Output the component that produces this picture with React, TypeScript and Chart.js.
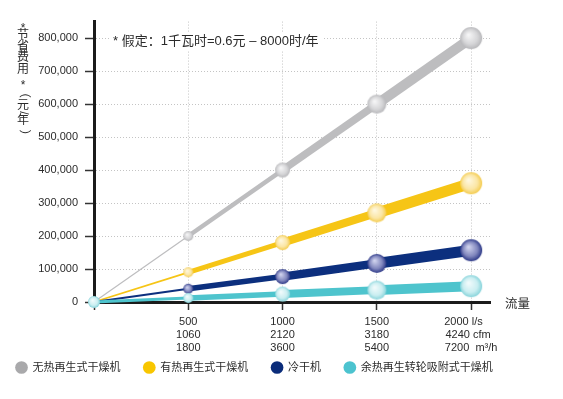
import React, { useEffect, useRef } from 'react';
import { Chart, registerables } from 'chart.js';

Chart.register(...registerables);

// ---- data ----
const flowLs = [0, 500, 1000, 1500, 2000];
const flowCfm = ['', '1060', '2120', '3180', '4240'];
const flowM3h = ['', '1800', '3600', '5400', '7200'];
const seriesNames = ['无热再生式干燥机', '有热再生式干燥机', '冷干机', '余热再生转轮吸附式干燥机'];
const heatlessSavings = [0, 200000, 400000, 600000, 800000];
const heatedSavings = [0, 90000, 180000, 270000, 360000];
const refrigeratedSavings = [0, 40000, 77000, 117000, 157000];
const heatOfCompressionSavings = [0, 12000, 24000, 36000, 48000];
const yTickValues = [0, 100000, 200000, 300000, 400000, 500000, 600000, 700000, 800000];
const yAxisTitleChars = ['*', '节', '省', '费', '用', '*', '（', '元', '/', '年', '）'];
const noteText = '* 假定：1千瓦时=0.6元 – 8000时/年';
const xAxisTitle = '流量';

const FAMILY = "'Liberation Sans', 'Noto Sans CJK SC', sans-serif";
const TEXT = '#2b2b2b';

function makeSphere(r: number, hi: string, mid: string, edge: string) {
  const size = Math.ceil(2 * r + 2);
  const c = document.createElement('canvas');
  c.width = size;
  c.height = size;
  const g = c.getContext('2d')!;
  const cx = size / 2, cy = size / 2;
  const grad = g.createRadialGradient(cx - r * 0.25, cy - r * 0.3, r * 0.05, cx, cy, r);
  grad.addColorStop(0, hi);
  grad.addColorStop(0.65, mid);
  grad.addColorStop(1, edge);
  g.fillStyle = grad;
  g.beginPath();
  g.arc(cx, cy, r, 0, Math.PI * 2);
  g.fill();
  return c;
}

export default function App() {
  const ref = useRef<HTMLCanvasElement>(null);

  useEffect(() => {
    const canvas = ref.current!;
    Chart.defaults.font.family = FAMILY;

    const radii = [6, 5, 7.5, 9.5, 11];
    const palettes: [string, string, string][] = [
      ['#f6f6f7', '#d6d6d8', '#b8b8bb'],
      ['#fff8e0', '#fbe6a4', '#f4cc50'],
      ['#d0d3ee', '#8086bd', '#2e3a88'],
      ['#f2fbfc', '#caeef1', '#88d4db'],
    ];
    const spheres = palettes.map((p) => radii.map((r) => makeSphere(r, p[0], p[1], p[2])));
    const widths = [
      [1.2, 4.5, 7.5, 10],
      [1.8, 5, 8, 11],
      [2, 5.5, 8.5, 11],
      [3, 5.5, 8, 10],
    ];
    const lineColors = ['#bdbdbf', '#f6c516', '#0c2f7e', '#4ec4cd'];
    const legendColors = ['#a9a9ab', '#f8c600', '#0b2c7a', '#4cc3cf'];
    const values = [heatlessSavings, heatedSavings, refrigeratedSavings, heatOfCompressionSavings];

    const datasets = values.map((vals, d) => ({
      label: seriesNames[d],
      data: vals.map((v, i) => ({ x: flowLs[i], y: v })),
      borderColor: lineColors[d],
      backgroundColor: legendColors[d],
      borderWidth: widths[d][3],
      borderJoinStyle: 'round',
      segment: { borderWidth: (ctx: any) => widths[d][ctx.p0DataIndex] },
      pointStyle: (ctx: any) => spheres[d][ctx.dataIndex],
      pointRadius: (ctx: any) => (ctx.dataIndex === 0 && d !== 3 ? 0 : radii[ctx.dataIndex]),
      pointHoverRadius: (ctx: any) => (ctx.dataIndex === 0 && d !== 3 ? 0 : radii[ctx.dataIndex]),
      pointBorderWidth: 0,
      clip: false,
      order: 4 - d,
      tension: 0,
      fill: false,
    }));

    const last = flowLs.length - 1;
    const xTickLabel = (i: number) => {
      if (i === 0) return '';
      if (i === last) return [`${flowLs[i]} l/s     `, `${flowCfm[i]} cfm  `, `${flowM3h[i]}  m³/h`];
      return [String(flowLs[i]), flowCfm[i], flowM3h[i]];
    };

    const textPlugin = {
      id: 'extraText',
      beforeDatasetsDraw(chart: any) {
        const { ctx, chartArea } = chart;
        ctx.save();
        ctx.font = `13px ${FAMILY}`;
        const x0 = chartArea.left + 19;
        const y0 = 33;
        const w = ctx.measureText(noteText).width;
        ctx.fillStyle = '#ffffff';
        ctx.fillRect(x0 - 4, y0 - 9, w + 8, 18);
        ctx.fillStyle = TEXT;
        ctx.textAlign = 'left';
        ctx.textBaseline = 'middle';
        ctx.fillText(noteText, x0, y0);
        ctx.restore();
      },
      afterDraw(chart: any) {
        const { ctx, chartArea } = chart;
        ctx.save();
        ctx.fillStyle = TEXT;
        ctx.textBaseline = 'middle';
        ctx.textAlign = 'left';
        ctx.font = `12.5px ${FAMILY}`;
        ctx.fillText(xAxisTitle, chartArea.right + 15, chartArea.bottom + 3);
        // vertical y-axis title
        ctx.font = `12px ${FAMILY}`;
        ctx.textAlign = 'center';
        const ys = [21, 27.6, 38.9, 50.1, 61.4, 78, 84, 98, 105, 113, 127.5];
        const x = 15;
        yAxisTitleChars.forEach((ch, i) => {
          const rot = ch === '（' || ch === '）' || ch === '/';
          ctx.save();
          ctx.translate(x, ys[i]);
          if (rot) ctx.rotate(Math.PI / 2);
          ctx.fillText(ch, 0, 0);
          ctx.restore();
        });
        ctx.restore();
      },
    };

    const chart = new Chart(canvas, {
      type: 'line',
      data: { datasets: datasets as any },
      plugins: [textPlugin],
      options: {
        animation: false,
        responsive: true,
        maintainAspectRatio: false,
        events: [],
        layout: { padding: { top: 13, right: 0, bottom: 8, left: 0 } },
        plugins: {
          tooltip: { enabled: false },
          legend: {
            position: 'bottom',
            align: 'start',
            labels: {
              usePointStyle: true,
              boxWidth: 11,
              boxHeight: 9,
              padding: 8,
              color: TEXT,
              font: { size: 11, family: FAMILY },
              generateLabels: (c: any) =>
                c.data.datasets.map((ds: any, i: number) => ({
                  text: ds.label + (i < c.data.datasets.length - 1 ? '     ' : ''),
                  fillStyle: legendColors[i],
                  strokeStyle: legendColors[i],
                  lineWidth: 0,
                  pointStyle: 'circle',
                  hidden: false,
                  datasetIndex: i,
                  fontColor: TEXT,
                })),
            },
          },
        },
        scales: {
          x: {
            type: 'linear',
            min: 0,
            max: 2100,
            afterBuildTicks: (s: any) => {
              s.ticks = flowLs.map((v) => ({ value: v }));
            },
            afterFit: (s: any) => {
              s.height = 52;
            },
            grid: { color: '#c4c4c4', lineWidth: 1, tickColor: '#333', tickLength: 8, tickWidth: 1.5 },
            border: { color: '#1b1b1b', width: 3, dash: [1, 2] },
            ticks: {
              callback: (_v: any, i: number) => xTickLabel(i),
              color: TEXT,
              font: { size: 11, family: FAMILY, lineHeight: 1.2 },
              padding: 5,
              maxRotation: 0,
              autoSkip: false,
            },
          },
          y: {
            min: 0,
            max: 850000,
            afterBuildTicks: (s: any) => {
              s.ticks = yTickValues.map((v) => ({ value: v }));
            },
            afterFit: (s: any) => {
              s.width = 86;
            },
            grid: { color: '#c4c4c4', lineWidth: 1, tickColor: '#333', tickLength: 9, tickWidth: 1.5 },
            border: { color: '#1b1b1b', width: 3, dash: [1, 2] },
            ticks: {
              callback: (v: any) => Number(v).toLocaleString('en-US'),
              color: TEXT,
              font: { size: 11, family: FAMILY },
              padding: 7,
            },
          },
          yRightSpace: {
            position: 'right',
            display: true,
            grid: { display: false, drawTicks: false },
            border: { display: false },
            ticks: { display: false },
            afterFit: (s: any) => {
              s.width = 65;
            },
          },
        },
      } as any,
    });
    return () => chart.destroy();
  }, []);

  return (
    <div style={{ position: 'relative', width: 547, height: 383 }}>
      <canvas ref={ref} />
    </div>
  );
}
